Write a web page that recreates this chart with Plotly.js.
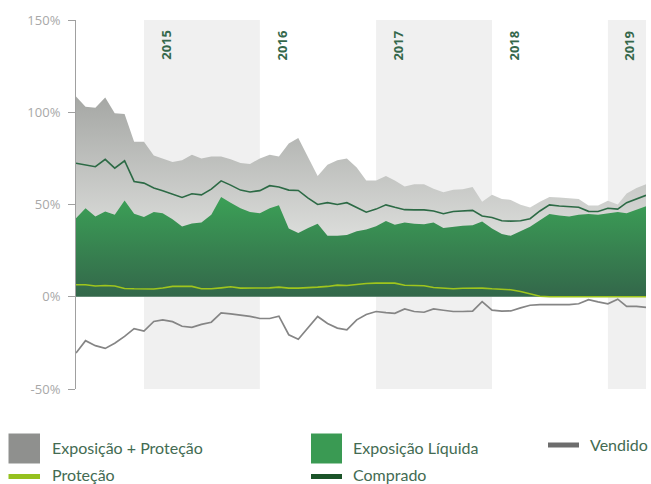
<!DOCTYPE html>
<html><head><meta charset="utf-8">
<script src="https://cdn.plot.ly/plotly-3.0.1.min.js"></script>
<style>html,body{margin:0;padding:0;background:#fff;}#chart{width:651px;height:484px;}</style>
</head><body><div id="chart"></div>
<script>
const months = ['2014-06','2014-07','2014-08','2014-09','2014-10','2014-11','2014-12',
'2015-01','2015-02','2015-03','2015-04','2015-05','2015-06','2015-07','2015-08','2015-09','2015-10','2015-11','2015-12',
'2016-01','2016-02','2016-03','2016-04','2016-05','2016-06','2016-07','2016-08','2016-09','2016-10','2016-11','2016-12',
'2017-01','2017-02','2017-03','2017-04','2017-05','2017-06','2017-07','2017-08','2017-09','2017-10','2017-11','2017-12',
'2018-01','2018-02','2018-03','2018-04','2018-05','2018-06','2018-07','2018-08','2018-09','2018-10','2018-11','2018-12',
'2019-01','2019-02','2019-03','2019-04','2019-05'];

const exposicaoProtecao = [108.5,103,102.5,108,99.5,99,84,84,76.5,75,
73,74,77,75,76,76,74.5,72.5,72,75,
77,76,83,86,76,65.5,71.5,74,75,70,
63,63,65.5,63,59.7,61,61,58.5,56.6,58,
58.3,59.5,51.5,55.3,53,52.5,49.8,48.4,51.5,54,
53.8,53.2,53,49.5,49.5,52,50,56,59,61];

const exposicaoLiquida = [42.5,48,43.5,46.2,44.4,52.2,45,43.2,46,45.3,
42,38.1,39.7,40.3,44.4,54,51,48,46,45.3,
48,49.6,37,34.5,37.2,39.5,33,33,33.5,35.5,
36.5,38.2,41,39,40.2,39.5,39.3,40.3,37.3,38,
38.5,38.8,40.8,37,34,33,35.4,38,41.5,44.8,
44,43.5,44.5,44.8,44.4,45,46,45.3,47,49];

const comprado = [72.4,71.5,70.5,74.5,69.7,73.7,62.5,61.6,59,57.5,
55.6,53.8,55.8,55.2,58.3,62.8,60.5,57.8,56.8,57.5,
60.2,59.5,57.8,57.6,53.5,50,51,50,51,48.5,
45.8,47.5,49.8,48.5,47.2,47.1,47.1,46.5,45,46.2,
46.5,46.8,43.8,43,41.2,41,41.2,42.3,46.5,49.8,
49.2,48.9,48.5,46.3,46.2,48,47.5,51,53,55];

const protecao = [6.5,6.5,5.8,6.1,5.8,4.5,4.3,4.2,4.2,4.7,
5.6,5.6,5.6,4.3,4.3,4.8,5.4,4.7,4.7,4.7,
4.8,5.2,4.7,4.7,4.8,5.2,5.6,6.3,6.1,6.8,
7.2,7.4,7.4,7.4,6.2,6,6,5,4.6,4.3,
4.6,4.7,4.7,4.3,4.2,3.8,2.8,1.5,0.3,0,
0,0,0,0,0,0,0,0,0,0];

const vendido = [-30.5,-23.8,-26.5,-28,-25.2,-21.5,-17.3,-18.6,-13.4,-12.5,
-13.5,-16,-16.6,-15,-13.8,-8.8,-9.3,-9.9,-10.6,-11.8,
-11.8,-10.5,-20.6,-23,-16.5,-10.7,-14.5,-17,-17.9,-12.5,
-9.6,-8,-8.6,-9,-6.6,-8,-8.4,-6.6,-7.3,-8,
-8,-7.8,-2.6,-7.3,-7.8,-7.7,-6,-4.6,-4.3,-4.3,
-4.3,-4.3,-3.8,-1.6,-2.8,-3.8,-1.3,-5.2,-5.2,-5.8];

const years = ['2015','2016','2017','2018','2019'];
const yearStart = ['2015-01-01','2016-01-01','2017-01-01','2018-01-01','2019-01-01'];
const yearLabelPos = ['2015-03-13','2016-03-11','2017-03-12','2018-03-12','2019-03-10'];
const shadedYears = [0,2,4];
const yTickVals = [-50,0,50,100,150];
const yTickLabels = ['-50%','0%','50%','100%','150%'];
const seriesNames = ['Exposição + Proteção','Exposição Líquida','Vendido','Proteção','Comprado'];

const W=651,H=484,L=76,R=5,T=20,B=95;
const px = x => (x-L)/(W-L-R);
const py = y => (H-B-y)/(H-T-B);
const xEnd = '2019-05-01';

const traces = [
 {x:months,y:exposicaoProtecao,type:'scatter',mode:'lines',name:seriesNames[0],
  line:{width:0,color:'#a4a6a3'},fill:'tozeroy',
  fillgradient:{type:'vertical',colorscale:[[0,'#f3f4f2'],[1,'#a4a6a3']],start:0,stop:110},hoverinfo:'skip'},
 {x:months,y:exposicaoLiquida,type:'scatter',mode:'lines',name:seriesNames[1],
  line:{width:0,color:'#3a9a53'},fill:'tozeroy',
  fillgradient:{type:'vertical',colorscale:[[0,'#33674a'],[1,'#3b9e56']],start:0,stop:52},hoverinfo:'skip'},
 {x:months,y:comprado,type:'scatter',mode:'lines',name:seriesNames[4],line:{width:1.6,color:'#2c6a45'}},
 {x:months,y:protecao,type:'scatter',mode:'lines',name:seriesNames[3],line:{width:1.6,color:'#9fc51d'}},
 {x:months,y:vendido,type:'scatter',mode:'lines',name:seriesNames[2],line:{width:1.7,color:'#858585'}}
];

const shapes = [];
shadedYears.forEach(i=>{
  shapes.push({type:'rect',xref:'x',yref:'y',x0:yearStart[i],x1:(i+1<yearStart.length?yearStart[i+1]:xEnd),
    y0:-50,y1:150,fillcolor:'#f0f0f0',line:{width:0},layer:'below'});
});
// legend symbols
const legTextFont = {family:'Lato, Open Sans, sans-serif',size:16,color:'#436b52'};
shapes.push({type:'rect',xref:'paper',yref:'paper',x0:px(8.5),x1:px(40),y0:py(463.5),y1:py(433.5),fillcolor:'#8f908e',line:{width:0}});
shapes.push({type:'rect',xref:'paper',yref:'paper',x0:px(311),x1:px(342),y0:py(463.5),y1:py(433.5),fillcolor:'#3a9a53',line:{width:0}});
shapes.push({type:'line',xref:'paper',yref:'paper',x0:px(8.5),x1:px(40),y0:py(476.5),y1:py(476.5),line:{width:5,color:'#95c11f'}});
shapes.push({type:'line',xref:'paper',yref:'paper',x0:px(311),x1:px(342),y0:py(476.5),y1:py(476.5),line:{width:5,color:'#1b5429'}});
shapes.push({type:'line',xref:'paper',yref:'paper',x0:px(548),x1:px(579),y0:py(445),y1:py(445),line:{width:5,color:'#6d6d6d'}});

const annotations = [];
years.forEach((y,i)=>{
  annotations.push({x:yearLabelPos[i],y:145.5,xref:'x',yref:'y',text:'<b>'+y+'</b>',textangle:-90,
    showarrow:false,yanchor:'top',xanchor:'center',font:{family:'Open Sans, sans-serif',size:13,color:'#35684b'}});
});
const legItems = [[seriesNames[0],51,447.5],[seriesNames[3],51,474.5],[seriesNames[1],352,447.5],[seriesNames[4],352,474.5],[seriesNames[2],589,444.5]];
legItems.forEach(it=>{
  annotations.push({xref:'paper',yref:'paper',x:px(it[1]),y:py(it[2]),text:it[0],showarrow:false,
    xanchor:'left',yanchor:'middle',font:legTextFont,borderpad:0});
});

const layout = {
  width:W,height:H,margin:{l:L,r:R,t:T,b:B},showlegend:false,
  paper_bgcolor:'#ffffff',plot_bgcolor:'#ffffff',
  xaxis:{type:'date',range:['2014-06-01',xEnd],visible:false,showgrid:false,zeroline:false},
  yaxis:{range:[-50,150],tickvals:yTickVals,ticktext:yTickLabels,showgrid:false,zeroline:false,
    showline:true,linecolor:'#a0a0a0',linewidth:1,ticks:'outside',ticklen:7,tickcolor:'#a0a0a0',
    tickfont:{family:'Open Sans, sans-serif',size:13,color:'#a8a8a8'},ticklabelstandoff:5},
  shapes:shapes,annotations:annotations
};
Plotly.newPlot('chart',traces,layout,{staticPlot:true,displayModeBar:false});
</script></body></html>
